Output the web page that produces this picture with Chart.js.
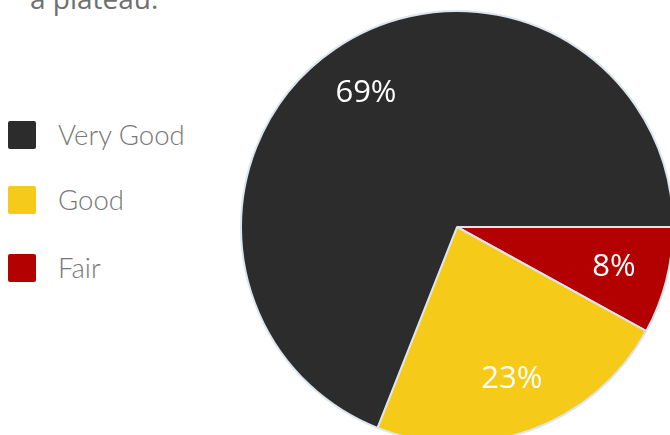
<!DOCTYPE html>
<html>
<head>
<meta charset="utf-8">
<script src="https://cdn.jsdelivr.net/npm/chart.js@4"></script>
<style>
    html, body { margin: 0; padding: 0; width: 670px; height: 435px; overflow: hidden; background: #fff; }
    .intro { position: absolute; left: 30px; top: -16px; font: 28px/28px "Open Sans", sans-serif; color: #6f6f6f; white-space: nowrap; }
    #legend { position: absolute; left: 8px; top: 0; }
    .item { position: absolute; left: 0; height: 28px; width: 220px; }
    .box { position: absolute; left: 0; top: 0; width: 28px; height: 28px; border-radius: 2px; }
    .label { position: absolute; left: 50px; top: -2px; font: 300 27.5px/32px Lato, sans-serif; color: #777; white-space: nowrap; }
    #wrap { position: absolute; left: 230px; top: 0; width: 454px; height: 454px; }
</style>
</head>
<body>
<div class="intro">a plateau.</div>
<div id="legend"></div>
<div id="wrap"><canvas id="pieChart"></canvas></div>
<script>
// Werte (Legendenreihenfolge)
const categories = ["Very Good", "Good", "Fair"];
const values = [69, 23, 8];
const colors = ["#2c2c2c", "#f6ca19", "#b30000"];
const legendTops = [121, 186, 254];

// Legende
const legend = document.getElementById("legend");
categories.forEach((cat, i) => {
    const item = document.createElement("div");
    item.className = "item";
    item.style.top = legendTops[i] + "px";
    item.innerHTML = `<div class="box" style="background:${colors[i]}"></div><div class="label">${cat}</div>`;
    legend.appendChild(item);
});

// Prozentwerte in die Segmente schreiben
const sliceLabels = {
    id: "sliceLabels",
    afterDatasetsDraw(chart) {
        const ctx = chart.ctx;
        const meta = chart.getDatasetMeta(0);
        const data = chart.data.datasets[0].data;
        ctx.save();
        ctx.fillStyle = "#ffffff";
        ctx.font = "31px 'Open Sans', sans-serif";
        ctx.textAlign = "center";
        ctx.textBaseline = "middle";
        meta.data.forEach((arc, i) => {
            const p = arc.getProps(["x", "y", "startAngle", "endAngle", "outerRadius"], true);
            const mid = (p.startAngle + p.endAngle) / 2;
            const r = p.outerRadius * 0.75;
            ctx.fillText(data[i] + "%", p.x + Math.cos(mid) * r, p.y + Math.sin(mid) * r);
        });
        ctx.restore();
    }
};

// Im Uhrzeigersinn ab 3 Uhr: Fair, Good, Very Good
const ctx = document.getElementById("pieChart").getContext("2d");
new Chart(ctx, {
    type: "pie",
    data: {
        labels: categories.slice().reverse(),
        datasets: [{
            data: values.slice().reverse(),
            backgroundColor: colors.slice().reverse(),
            borderColor: "#dce5ee",
            borderWidth: 2
        }]
    },
    options: {
        responsive: true,
        maintainAspectRatio: false,
        animation: false,
        rotation: 90,
        layout: { padding: 10 },
        plugins: {
            legend: { display: false },
            tooltip: { enabled: false }
        }
    },
    plugins: [sliceLabels]
});
</script>
</body>
</html>
